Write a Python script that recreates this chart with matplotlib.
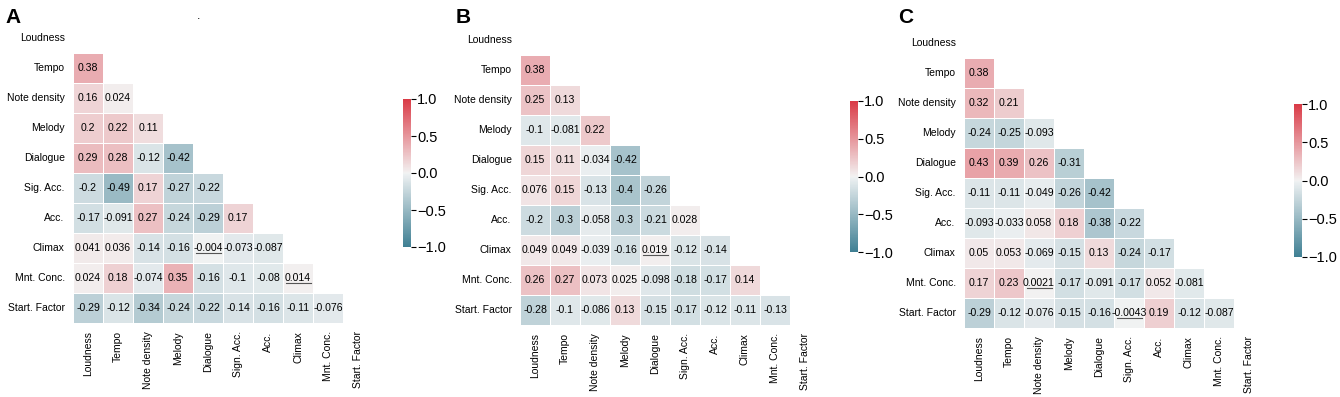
import numpy as np
import matplotlib
matplotlib.use("Agg")
import matplotlib.pyplot as plt
import seaborn as sns

plt.rcParams['font.family'] = ['Liberation Sans', 'DejaVu Sans']

row_labels = ["Loudness", "Tempo", "Note density", "Melody", "Dialogue", "Sig. Acc.",
              "Acc.", "Climax", "Mnt. Conc.", "Start. Factor"]
col_labels = ["Loudness", "Tempo", "Note density", "Melody", "Dialogue", "Sign. Acc.",
              "Acc.", "Climax", "Mnt. Conc.", "Start. Factor"]

# lower-triangle values, row by row (rows 2..10)
corr_A = [
    [0.38],
    [0.16, 0.024],
    [0.2, 0.22, 0.11],
    [0.29, 0.28, -0.12, -0.42],
    [-0.2, -0.49, 0.17, -0.27, -0.22],
    [-0.17, -0.091, 0.27, -0.24, -0.29, 0.17],
    [0.041, 0.036, -0.14, -0.16, -0.004, -0.073, -0.087],
    [0.024, 0.18, -0.074, 0.35, -0.16, -0.1, -0.08, 0.014],
    [-0.29, -0.12, -0.34, -0.24, -0.22, -0.14, -0.16, -0.11, -0.076],
]
corr_B = [
    [0.38],
    [0.25, 0.13],
    [-0.1, -0.081, 0.22],
    [0.15, 0.11, -0.034, -0.42],
    [0.076, 0.15, -0.13, -0.4, -0.26],
    [-0.2, -0.3, -0.058, -0.3, -0.21, 0.028],
    [0.049, 0.049, -0.039, -0.16, 0.019, -0.12, -0.14],
    [0.26, 0.27, 0.073, 0.025, -0.098, -0.18, -0.17, 0.14],
    [-0.28, -0.1, -0.086, 0.13, -0.15, -0.17, -0.12, -0.11, -0.13],
]
corr_C = [
    [0.38],
    [0.32, 0.21],
    [-0.24, -0.25, -0.093],
    [0.43, 0.39, 0.26, -0.31],
    [-0.11, -0.11, -0.049, -0.26, -0.42],
    [-0.093, -0.033, 0.058, 0.18, -0.38, -0.22],
    [0.05, 0.053, -0.069, -0.15, 0.13, -0.24, -0.17],
    [0.17, 0.23, 0.0021, -0.17, -0.091, -0.17, 0.052, -0.081],
    [-0.29, -0.12, -0.076, -0.15, -0.16, -0.0043, 0.19, -0.12, -0.087],
]
# underlined cells (row, col)
underlined_A = [(7, 4), (8, 7)]
underlined_B = [(7, 4)]
underlined_C = [(8, 2), (9, 5)]

panels = [
    ("A", corr_A, underlined_A),
    ("B", corr_B, underlined_B),
    ("C", corr_C, underlined_C),
]

W, H = 1340, 397
fig = plt.figure(figsize=(W / 100, H / 100), dpi=100)

# pixel boxes: heatmap (left, top, right, bottom), colorbar, panel letter
heat_boxes = [(73, 23, 373, 323), (520, 25, 820, 325), (964, 28, 1264, 328)]
cbar_boxes = [(403, 99, 411, 247), (850, 101, 858, 252), (1294, 104, 1302, 257)]
letter_pos = [(5, 23), (456, 23), (898, 23)]


def px_to_rect(l, t, r, b):
    return [l / W, 1 - b / H, (r - l) / W, (b - t) / H]


cmap = sns.diverging_palette(220, 10, as_cmap=True)
n = len(row_labels)

for k, (letter, tri, ul) in enumerate(panels):
    M = np.zeros((n, n))
    for i, row in enumerate(tri, start=1):
        for j, v in enumerate(row):
            M[i, j] = v
            M[j, i] = v
    mask = np.triu(np.ones((n, n), dtype=bool))
    ax = fig.add_axes(px_to_rect(*heat_boxes[k]))
    cax = fig.add_axes(px_to_rect(*cbar_boxes[k]))
    sns.heatmap(M, mask=mask, cmap=cmap, vmin=-1, vmax=1, center=0,
                annot=True, fmt=".2g", annot_kws={"size": 7.6, "color": "black"},
                linewidths=0.4, linecolor="white", square=False,
                xticklabels=col_labels, yticklabels=row_labels,
                ax=ax, cbar_ax=cax)
    for t in ax.texts:
        t.set_color("black")
    ax.tick_params(length=0, labelsize=7.5, pad=6)
    ax.set_xticklabels(col_labels, rotation=90, fontsize=7.5)
    ax.set_yticklabels(row_labels, rotation=0, fontsize=7.5)
    for (i, j) in ul:
        ax.plot([j + 0.1, j + 0.92], [i + 0.66, i + 0.66], color="#555555", lw=0.8)
    cbar = ax.collections[0].colorbar
    cbar.outline.set_visible(False)
    cbar.set_ticks([-1, -0.5, 0, 0.5, 1])
    cax.tick_params(labelsize=10.5, length=3.5, width=0.8, pad=1)
    lx, ly = letter_pos[k]
    fig.text(lx / W, 1 - ly / H, letter, fontsize=15, fontweight="bold",
             ha="left", va="baseline")

fig.text(199 / W, 1 - 19 / H, ".", fontsize=9, ha="center", va="baseline")

fig.savefig("out.png", dpi=100)
